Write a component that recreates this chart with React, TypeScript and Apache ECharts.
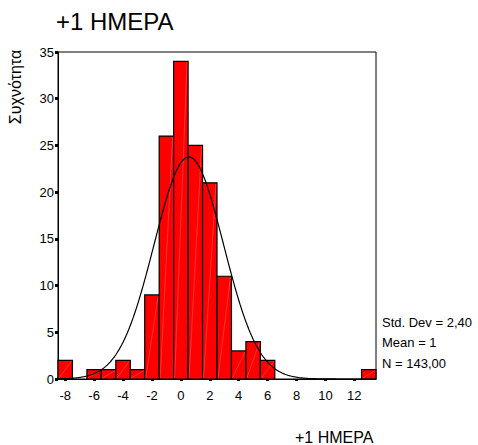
import React, { useEffect, useRef } from "react";
import * as echarts from "echarts";

// Histogram bins (centers) and frequencies
const binCenters = [-8, -7, -6, -5, -4, -3, -2, -1, 0, 1, 2, 3, 4, 5, 6, 7, 8, 9, 10, 11, 12, 13];
const counts = [2, 0, 1, 1, 2, 1, 9, 26, 34, 25, 21, 11, 3, 4, 2, 0, 0, 0, 0, 0, 0, 1];
const xTickLabels = [-8, -6, -4, -2, 0, 2, 4, 6, 8, 10, 12];

// Summary statistics shown in the chart (fitted normal curve parameters)
const statMean = 0.55;
const statSd = 2.4;
const statN = 143;
const statLabels = ["Std. Dev = 2,40", "Mean = 1", "N = 143,00"];

const titleText = "+1 HMEPA";
const yName = "Συχνότητα";

const FONT = "'Liberation Sans', Arial, sans-serif";

export default function App() {
  const ref = useRef<HTMLDivElement>(null);
  useEffect(() => {
    if (!ref.current) return;
    const chart = echarts.init(ref.current, undefined, { renderer: "svg" });

    const barData = binCenters.map((c, i) => [c, counts[i]]);
    const curve: number[][] = [];
    for (let k = 0; k <= 220; k++) {
      const x = -8.5 + k * 0.1;
      const z = (x - statMean) / statSd;
      curve.push([x, (statN / (statSd * Math.sqrt(2 * Math.PI))) * Math.exp(-0.5 * z * z)]);
    }

    chart.setOption({
      animation: false,
      grid: {
        left: 58,
        right: 102,
        top: 52,
        bottom: 66,
        show: true,
        borderColor: "#000",
        borderWidth: 1,
        backgroundColor: "transparent",
      },
      xAxis: {
        type: "value",
        min: -8.5,
        max: 13.5,
        splitLine: { show: false },
        axisLine: { onZero: false, lineStyle: { color: "#000", width: 1 } },
        axisTick: {
          show: true,
          customValues: xTickLabels,
          length: 2,
          lineStyle: { color: "#000", width: 3 },
        },
        axisLabel: {
          customValues: xTickLabels,
          color: "#000",
          fontFamily: FONT,
          fontSize: 13,
          margin: 10,
        },
      },
      yAxis: {
        type: "value",
        min: 0,
        max: 35,
        interval: 5,
        splitLine: { show: false },
        axisLine: { show: true, onZero: false, lineStyle: { color: "#000", width: 1 } },
        axisTick: { show: true, length: 3, lineStyle: { color: "#000", width: 3 } },
        axisLabel: {
          color: "#000",
          fontFamily: FONT,
          fontSize: 13,
          margin: 4,
        },
      },
      series: [
        {
          type: "custom",
          data: barData,
          z: 2,
          renderItem: (params: any, api: any) => {
            const x = api.value(0);
            const y = api.value(1);
            if (!y) return null;
            const p0 = api.coord([x - 0.5, 0]);
            const p1 = api.coord([x + 0.5, y]);
            const w = p1[0] - p0[0];
            const h = p0[1] - p1[1];
            return {
              type: "group",
              children: [
                {
                  type: "rect",
                  shape: { x: p0[0], y: p1[1], width: w, height: h },
                  style: { fill: "#ff0000", stroke: "#000", lineWidth: 1.2 },
                },
                {
                  type: "line",
                  shape: { x1: p0[0] + 1, y1: p0[1] - 1, x2: p1[0] - 1, y2: p1[1] + 1 },
                  style: { stroke: "rgba(255,255,255,0.2)", lineWidth: 1 },
                },
              ],
            };
          },
        },
        {
          type: "line",
          data: curve,
          showSymbol: false,
          symbol: "none",
          z: 3,
          lineStyle: { color: "#000", width: 1.2 },
        },
      ],
      graphic: [
        {
          type: "text",
          left: 56,
          top: 9,
          style: { text: titleText, fill: "#000", font: `24px ${FONT}` },
        },
        {
          type: "group",
          x: 15,
          y: 87,
          rotation: Math.PI / 2,
          children: [
            {
              type: "text",
              x: 0,
              y: 0,
              style: {
                text: yName,
                fill: "#000",
                font: `16px ${FONT}`,
                align: "center",
                verticalAlign: "middle",
              },
            },
          ],
        },
        ...statLabels.map((t, i) => ({
          type: "text",
          x: 382,
          y: 322 + i * 20.5,
          style: { text: t, fill: "#000", font: `13px ${FONT}`, verticalAlign: "middle" },
        })),
        {
          type: "text",
          x: 295,
          y: 437,
          style: { text: titleText, fill: "#000", font: `16px ${FONT}`, verticalAlign: "middle" },
        },
      ],
    });
    return () => chart.dispose();
  }, []);
  return (
    <div
      ref={ref}
      style={{ position: "fixed", left: 0, top: 0, width: 478, height: 445, background: "#fff" }}
    />
  );
}
